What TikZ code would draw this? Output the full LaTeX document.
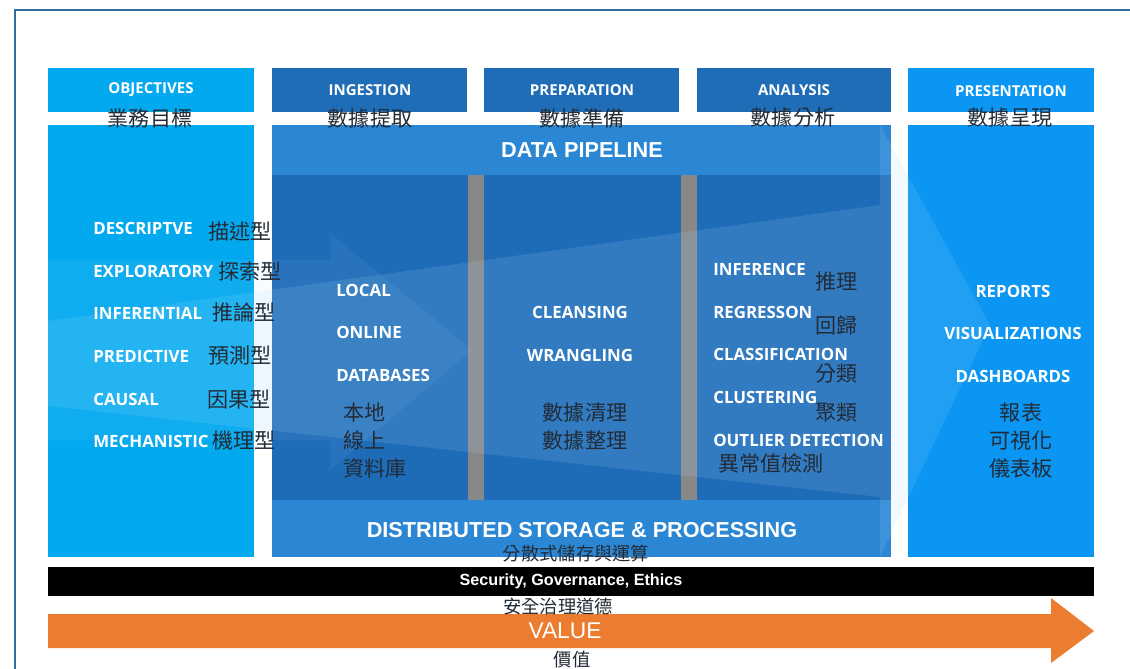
\documentclass[tikz,border=0pt]{standalone}
\usepackage{fontspec}
\setmainfont{Open Sans}
\newfontfamily\arialfont{Liberation Sans}
\newfontfamily\cjk{Noto Sans CJK TC}
\usepackage{xcolor}
\usepackage{tikz}
\usetikzlibrary{positioning}

\definecolor{objblue}{HTML}{03A9EF}
\definecolor{hdrblue}{HTML}{1F6DB6}
\definecolor{pipeband}{HTML}{2B86D3}
\definecolor{pipedark}{HTML}{1E6BB7}
\definecolor{presblue}{HTML}{0A96F2}
\definecolor{sepgray}{HTML}{888888}
\definecolor{valorange}{HTML}{EC7D30}
\definecolor{zhgray}{HTML}{222B36}
\definecolor{framecol}{HTML}{2F6E9A}
\definecolor{glow}{HTML}{A8DCFF}

\newlength\pxu
\setlength\pxu{0.025cm}

\begin{document}
\begin{tikzpicture} [
	x=0.025cm, y=-0.025cm, % one unit is one pixel of the layout
	box/.style args={#1x#2}{inner sep=0pt, minimum width=#1\pxu, minimum height=#2\pxu},
	head/.style={text=white, font=\bfseries\fontsize{10.7}{12}\selectfont},
	item/.style={text=white, font=\bfseries\fontsize{12}{14}\selectfont, anchor=west, inner sep=0pt},
	zh/.style={text=zhgray, font=\cjk\fontsize{15}{17}\selectfont, inner sep=0pt},
	zhl/.style={zh, anchor=west},
	zhs/.style={zh, font=\cjk\fontsize{13}{15}\selectfont},
	band/.style={text=white, font=\arialfont\bfseries\fontsize{15.4}{17}\selectfont},
	]
	\useasboundingbox (0,0) rectangle (1130,669);
	\draw[framecol, line width=1.5pt] (15,669) -- (15,10) -- (1130,10);

	% header row
	\node[box=206x44, fill=objblue] (objhead) at (151,90) {};
	\node[box=195x44, fill=hdrblue] (inghead) at (369.5,90) {};
	\node[box=195x44, fill=hdrblue] (prephead) at (581.5,90) {};
	\node[box=194x44, fill=hdrblue] (anahead) at (794,90) {};
	\node[box=186x44, fill=presblue] (preshead) at (1001,90) {};

	% columns
	\node[box=206x432, fill=objblue] (objbody) at (151,341) {};
	\node[box=619x432, fill=pipeband] (pipe) at (581.5,341) {};
	\node[box=619x325, fill=pipedark] (pipemid) at (581.5,337.5) {};
	\node[box=16x325, fill=sepgray] (sep1) at (476,337.5) {};
	\node[box=16x325, fill=sepgray] (sep2) at (688.5,337.5) {};
	\node[box=186x432, fill=presblue] (presbody) at (1001,341) {};

	% faint arrows over the columns
	\fill[glow, opacity=0.08] (48,260) -- (330,260) -- (330,233) -- (472,350) -- (330,470) -- (330,440) -- (48,440) -- cycle;
	\fill[glow, opacity=0.15] (48,321) -- (880,205) -- (880,125) -- (990,325) -- (880,557) -- (880,497) -- (48,406) -- cycle;

	% bottom bars
	\node[box=1046x29, fill=black] (secbar) at (571,581.5) {};
	\fill[valorange] (48,614) -- (1051,614) -- (1051,598) -- (1094,631) -- (1051,663) -- (1051,648) -- (48,648) -- cycle;
	\coordinate (val) at (565,631);

	% header labels
	\node[head] (objt) at (151,90) {OBJECTIVES};
	\node[head] (ingt) at (370,90) {INGESTION};
	\node[head] (prept) at (582,90) {PREPARATION};
	\node[head] (anat) at (794,90) {ANALYSIS};
	\node[head] (prest) at (1011,91) {PRESENTATION};
	\node[zh] (objz) at (150,118) {業務目標};
	\node[zh] (ingz) at (370,118) {數據提取};
	\node[zh] (prepz) at (582,118) {數據準備};
	\node[zh] (anaz) at (793,118) {數據分析};
	\node[zh] (presz) at (1010,118) {數據呈現};

	\node[band] (pipet) at (582,150) {DATA PIPELINE};
	\node[band] (storet) at (582,530) {DISTRIBUTED STORAGE \& PROCESSING};
	\node[zhs] (storez) at (576,554) {分散式儲存與運算};

	% objectives
	\node[item] (desc) at (93,228) {DESCRIPTVE};
	\node[item] (expl) at (93,271) {EXPLORATORY};
	\node[item] (infe) at (93,313) {INFERENTIAL};
	\node[item] (pred) at (93,356) {PREDICTIVE};
	\node[item] (caus) at (93,399) {CAUSAL};
	\node[item] (mech) at (93,441) {MECHANISTIC};
	\node[zhl] (descz) at (208,232) {描述型};
	\node[zhl] (explz) at (218,271) {探索型};
	\node[zhl] (infez) at (212,312) {推論型};
	\node[zhl] (predz) at (208,356) {預測型};
	\node[zhl] (causz) at (207,400) {因果型};
	\node[zhl] (mechz) at (212,441) {機理型};

	% ingestion
	\node[item] (loc) at (336,290) {LOCAL};
	\node[item] (onl) at (336,332) {ONLINE};
	\node[item] (dbs) at (336,375) {DATABASES};
	\node[zhl] (locz) at (343,412) {本地};
	\node[zhl] (onlz) at (343,440) {線上};
	\node[zhl] (dbsz) at (343,468) {資料庫};

	% preparation
	\node[item, anchor=center] (cln) at (580,312) {CLEANSING};
	\node[item, anchor=center] (wrg) at (580,355) {WRANGLING};
	\node[zh] (clnz) at (585,413) {數據清理};
	\node[zh] (wrgz) at (585,440) {數據整理};

	% analysis
	\node[item] (inf) at (713,269) {INFERENCE};
	\node[item] (reg) at (713,312) {REGRESSON};
	\node[item] (cla) at (713,354) {CLASSIFICATION};
	\node[item] (clu) at (713,397) {CLUSTERING};
	\node[item] (out) at (713,440) {OUTLIER DETECTION};
	\node[zhl] (infz) at (815,281) {推理};
	\node[zhl] (regz) at (815,325) {回歸};
	\node[zhl] (claz) at (815,374) {分類};
	\node[zhl] (cluz) at (815,413) {聚類};
	\node[zhl] (outz) at (718,463) {異常值檢測};

	% presentation
	\node[item, anchor=center] (rep) at (1013,291) {REPORTS};
	\node[item, anchor=center] (vis) at (1013,333) {VISUALIZATIONS};
	\node[item, anchor=center] (dsh) at (1013,376) {DASHBOARDS};
	\node[zh] (repz) at (1021,413) {報表};
	\node[zh] (visz) at (1021,441) {可視化};
	\node[zh] (dshz) at (1021,468) {儀表板};

	% security and value
	\node[text=white, font=\arialfont\bfseries\fontsize{11.5}{13}\selectfont] (sect) at (secbar) {Security, Governance, Ethics};
	\node[zhs] (secz) at (558,607) {安全治理道德};
	\node[text=white, font=\arialfont\fontsize{16.2}{18}\selectfont] (valt) at (val) {VALUE};
	\node[zhs] (valz) at (572,660) {價值};
\end{tikzpicture}
\end{document}
